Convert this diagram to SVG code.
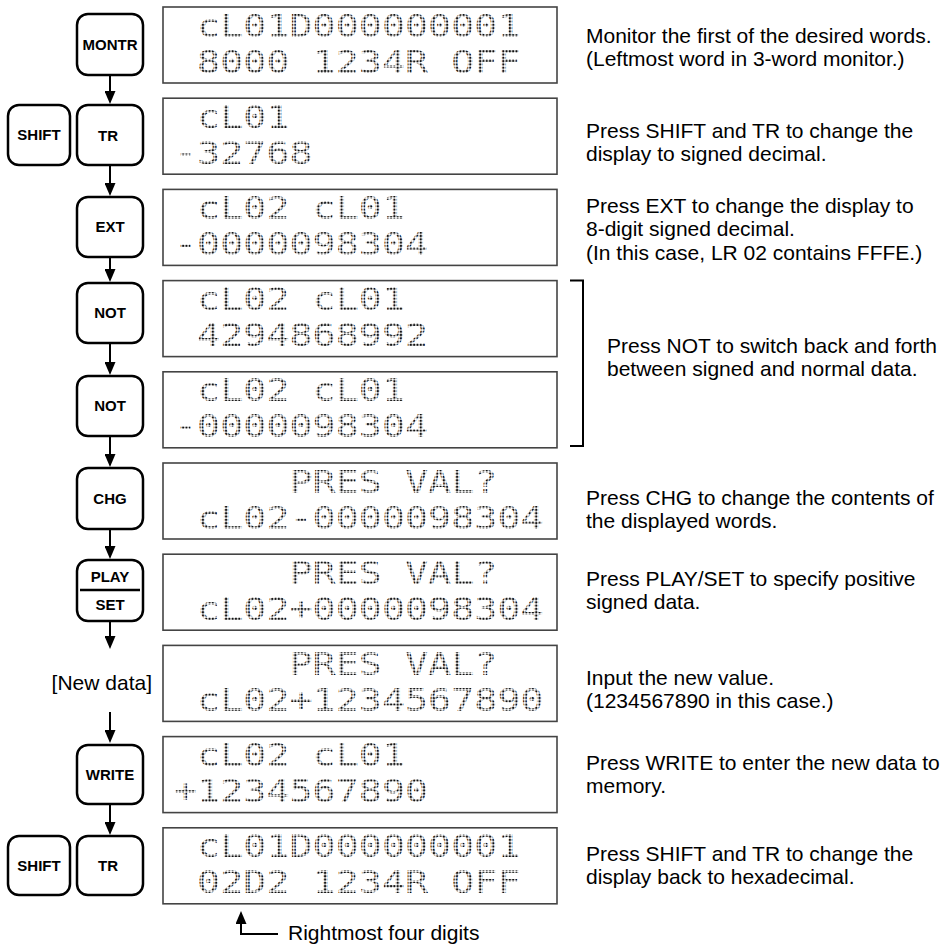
<svg xmlns="http://www.w3.org/2000/svg" width="951" height="947" viewBox="0 0 951 947">
<defs>
<pattern id="dots" width="3.3" height="3.3" patternUnits="userSpaceOnUse"><circle cx="1.65" cy="1.65" r="1.25" fill="#111"/></pattern>
<marker id="ah" viewBox="0 0 13 11" refX="0" refY="5.5" markerWidth="13" markerHeight="11" markerUnits="userSpaceOnUse" orient="auto"><path d="M0,0 L13,5.5 L0,11 z" fill="#000"/></marker>
</defs>
<style>
.key rect{fill:#fff;stroke:#000;stroke-width:2.5}
.key text{font-family:"Liberation Sans",Arial,sans-serif;font-weight:bold;font-size:15px;text-anchor:middle;fill:#000}
.lcd rect{fill:#fff;stroke:#444;stroke-width:1.6}
.lcd text{font-family:"DejaVu Sans Mono","Liberation Mono",monospace;font-size:31.5px;fill:url(#dots)}
.desc{font-family:"Liberation Sans",Arial,sans-serif;font-size:21px;fill:#000}
.conn line,.conn path{stroke:#000;stroke-width:2;fill:none}
</style>
<rect width="951" height="947" fill="#fff"/>

<g id="key-montr" class="key"><rect x="77" y="14" width="66" height="61" rx="11"/><text x="110" y="49.9">MONTR</text></g>
<g id="key-shift1" class="key"><rect x="8" y="105" width="62" height="60" rx="11"/><text x="39" y="140.3">SHIFT</text></g>
<g id="key-tr1" class="key"><rect x="77" y="105" width="66" height="60" rx="11"/><text x="108" y="140.8">TR</text></g>
<g id="key-ext" class="key"><rect x="77" y="197" width="66" height="60" rx="11"/><text x="110" y="232.3">EXT</text></g>
<g id="key-not1" class="key"><rect x="77" y="283" width="66" height="60" rx="11"/><text x="110" y="318.3">NOT</text></g>
<g id="key-not2" class="key"><rect x="77" y="376" width="66" height="60" rx="11"/><text x="110" y="411.3">NOT</text></g>
<g id="key-chg" class="key"><rect x="77" y="468" width="66" height="61" rx="11"/><text x="110" y="503.8">CHG</text></g>
<g id="key-playset" class="key"><rect x="77" y="560" width="66" height="61" rx="11"/><line x1="80" y1="590" x2="140" y2="590" stroke="#000" stroke-width="2.5"/><text x="110" y="582.3">PLAY</text><text x="110" y="610.3">SET</text></g>
<g id="newdata"><text class="desc" x="152" y="689.5" text-anchor="end">[New data]</text></g>
<g id="key-write" class="key"><rect x="77" y="745" width="66" height="59" rx="11"/><text x="110" y="779.8">WRITE</text></g>
<g id="key-shift2" class="key"><rect x="8" y="836" width="62" height="59" rx="11"/><text x="39" y="870.8">SHIFT</text></g>
<g id="key-tr2" class="key"><rect x="77" y="836" width="66" height="59" rx="11"/><text x="108" y="871.3">TR</text></g>

<g id="lcd1" class="lcd"><rect x="163" y="7" width="394" height="76"/><text x="197.1" y="36.5" textLength="323.4" lengthAdjust="spacingAndGlyphs">cL01D000000001</text><text x="197.1" y="72.5" textLength="323.4" lengthAdjust="spacingAndGlyphs">8000 1234R OFF</text></g>
<g id="lcd2" class="lcd"><rect x="163" y="98.2" width="394" height="76"/><text x="197.1" y="127.7" textLength="92.4" lengthAdjust="spacingAndGlyphs">cL01</text><text x="174" y="163.7" textLength="138.6" lengthAdjust="spacingAndGlyphs">-32768</text></g>
<g id="lcd3" class="lcd"><rect x="163" y="189.4" width="394" height="76"/><text x="197.1" y="218.9" textLength="207.9" lengthAdjust="spacingAndGlyphs">cL02 cL01</text><text x="174" y="254.9" textLength="254.1" lengthAdjust="spacingAndGlyphs">-0000098304</text></g>
<g id="lcd4" class="lcd"><rect x="163" y="280.6" width="394" height="76"/><text x="197.1" y="310.1" textLength="207.9" lengthAdjust="spacingAndGlyphs">cL02 cL01</text><text x="197.1" y="346.1" textLength="231" lengthAdjust="spacingAndGlyphs">4294868992</text></g>
<g id="lcd5" class="lcd"><rect x="163" y="371.8" width="394" height="76"/><text x="197.1" y="401.3" textLength="207.9" lengthAdjust="spacingAndGlyphs">cL02 cL01</text><text x="174" y="437.3" textLength="254.1" lengthAdjust="spacingAndGlyphs">-0000098304</text></g>
<g id="lcd6" class="lcd"><rect x="163" y="463" width="394" height="76"/><text x="289.5" y="492.5" textLength="207.9" lengthAdjust="spacingAndGlyphs">PRES VAL?</text><text x="197.1" y="528.5" textLength="346.5" lengthAdjust="spacingAndGlyphs">cL02-0000098304</text></g>
<g id="lcd7" class="lcd"><rect x="163" y="554.2" width="394" height="76"/><text x="289.5" y="583.7" textLength="207.9" lengthAdjust="spacingAndGlyphs">PRES VAL?</text><text x="197.1" y="619.7" textLength="346.5" lengthAdjust="spacingAndGlyphs">cL02+0000098304</text></g>
<g id="lcd8" class="lcd"><rect x="163" y="645.4" width="394" height="76"/><text x="289.5" y="674.9" textLength="207.9" lengthAdjust="spacingAndGlyphs">PRES VAL?</text><text x="197.1" y="710.9" textLength="346.5" lengthAdjust="spacingAndGlyphs">cL02+1234567890</text></g>
<g id="lcd9" class="lcd"><rect x="163" y="736.6" width="394" height="76"/><text x="197.1" y="766.1" textLength="207.9" lengthAdjust="spacingAndGlyphs">cL02 cL01</text><text x="174" y="802.1" textLength="254.1" lengthAdjust="spacingAndGlyphs">+1234567890</text></g>
<g id="lcd10" class="lcd"><rect x="163" y="827.8" width="394" height="76"/><text x="197.1" y="857.3" textLength="323.4" lengthAdjust="spacingAndGlyphs">cL01D000000001</text><text x="197.1" y="893.3" textLength="323.4" lengthAdjust="spacingAndGlyphs">02D2 1234R OFF</text></g>

<g id="desc1"><text class="desc"><tspan x="586" y="42.5">Monitor the first of the desired words.</tspan><tspan x="586" y="66">(Leftmost word in 3-word monitor.)</tspan></text></g>
<g id="desc2"><text class="desc"><tspan x="586" y="137.5">Press SHIFT and TR to change the</tspan><tspan x="586" y="161">display to signed decimal.</tspan></text></g>
<g id="desc3"><text class="desc"><tspan x="586" y="212.5">Press EXT to change the display to</tspan><tspan x="586" y="236">8-digit signed decimal.</tspan><tspan x="586" y="259.5">(In this case, LR 02 contains FFFE.)</tspan></text></g>
<g id="desc4"><text class="desc"><tspan x="607" y="352.5">Press NOT to switch back and forth</tspan><tspan x="607" y="376">between signed and normal data.</tspan></text></g>
<g id="desc5"><text class="desc"><tspan x="586" y="504.5">Press CHG to change the contents of</tspan><tspan x="586" y="528">the displayed words.</tspan></text></g>
<g id="desc6"><text class="desc"><tspan x="586" y="585.5">Press PLAY/SET to specify positive</tspan><tspan x="586" y="609">signed data.</tspan></text></g>
<g id="desc7"><text class="desc"><tspan x="586" y="684.5">Input the new value.</tspan><tspan x="586" y="708">(1234567890 in this case.)</tspan></text></g>
<g id="desc8"><text class="desc"><tspan x="586" y="769.5">Press WRITE to enter the new data to</tspan><tspan x="586" y="793">memory.</tspan></text></g>
<g id="desc9"><text class="desc"><tspan x="586" y="860.5">Press SHIFT and TR to change the</tspan><tspan x="586" y="884">display back to hexadecimal.</tspan></text></g>
<g id="note"><text class="desc" x="288" y="940">Rightmost four digits</text></g>

<g id="connectors" class="conn">
<line x1="110" y1="75" x2="110" y2="91" marker-end="url(#ah)"/>
<line x1="110" y1="165" x2="110" y2="183" marker-end="url(#ah)"/>
<line x1="110" y1="257" x2="110" y2="269" marker-end="url(#ah)"/>
<line x1="110" y1="343" x2="110" y2="362" marker-end="url(#ah)"/>
<line x1="110" y1="436" x2="110" y2="454" marker-end="url(#ah)"/>
<line x1="110" y1="529" x2="110" y2="546" marker-end="url(#ah)"/>
<line x1="110" y1="621" x2="110" y2="636" marker-end="url(#ah)"/>
<line x1="110" y1="712" x2="110" y2="730" marker-end="url(#ah)"/>
<line x1="110" y1="804" x2="110" y2="822" marker-end="url(#ah)"/>
<path d="M278,934 H241 V924" marker-end="url(#ah)"/>
<path d="M570,280.5 H583 V446 H570" stroke-width="1.5"/>
</g>
</svg>
